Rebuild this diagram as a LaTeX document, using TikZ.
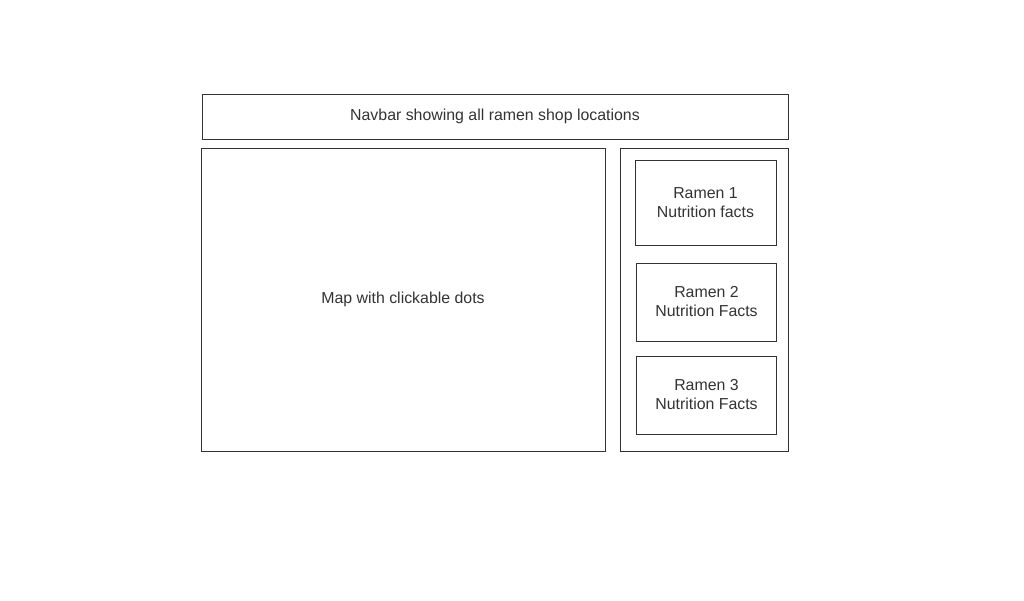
\documentclass[tikz,border=0pt]{standalone}
\usepackage{fontspec}
\setmainfont{Liberation Sans}
\usetikzlibrary{positioning}
\usepackage{xcolor}
\definecolor{inkgray}{HTML}{333333}

\begin{document}
\begin{tikzpicture}[every node/.style={font=\fontsize{11.3}{13.5}\selectfont, text=inkgray}]
\tikzstyle{panel}=[rectangle, draw=inkgray, line width=0.6pt, align=center, inner sep=0pt, outer sep=0pt]

\useasboundingbox (0,0) rectangle (25.6,-15);

% Navbar across the top
\node[panel, minimum width=14.65cm, minimum height=1.125cm, anchor=north west] (navbar) at (5.05,-2.35) {Navbar showing all ramen shop locations};

% Map and side panel
\node[panel, minimum width=10.1cm, minimum height=7.575cm, below=0.225cm of navbar.south west, anchor=north west, xshift=-0.025cm] (map) {Map with clickable dots};
\node[panel, minimum width=4.2cm, minimum height=7.575cm, right=0.375cm of map] (side) {};

% Ramen cards in the side panel
\node[panel, minimum width=3.525cm, minimum height=2.125cm, below=0.3cm of side.north, anchor=north, xshift=0.0375cm] (ramenA) {Ramen 1\\Nutrition facts};
\node[panel, minimum width=3.5cm, minimum height=1.95cm, below=0.45cm of ramenA, xshift=0.025cm] (ramenB) {Ramen 2\\Nutrition Facts};
\node[panel, minimum width=3.5cm, minimum height=1.95cm, below=0.375cm of ramenB] (ramenC) {Ramen 3\\Nutrition Facts};
\end{tikzpicture}
\end{document}
